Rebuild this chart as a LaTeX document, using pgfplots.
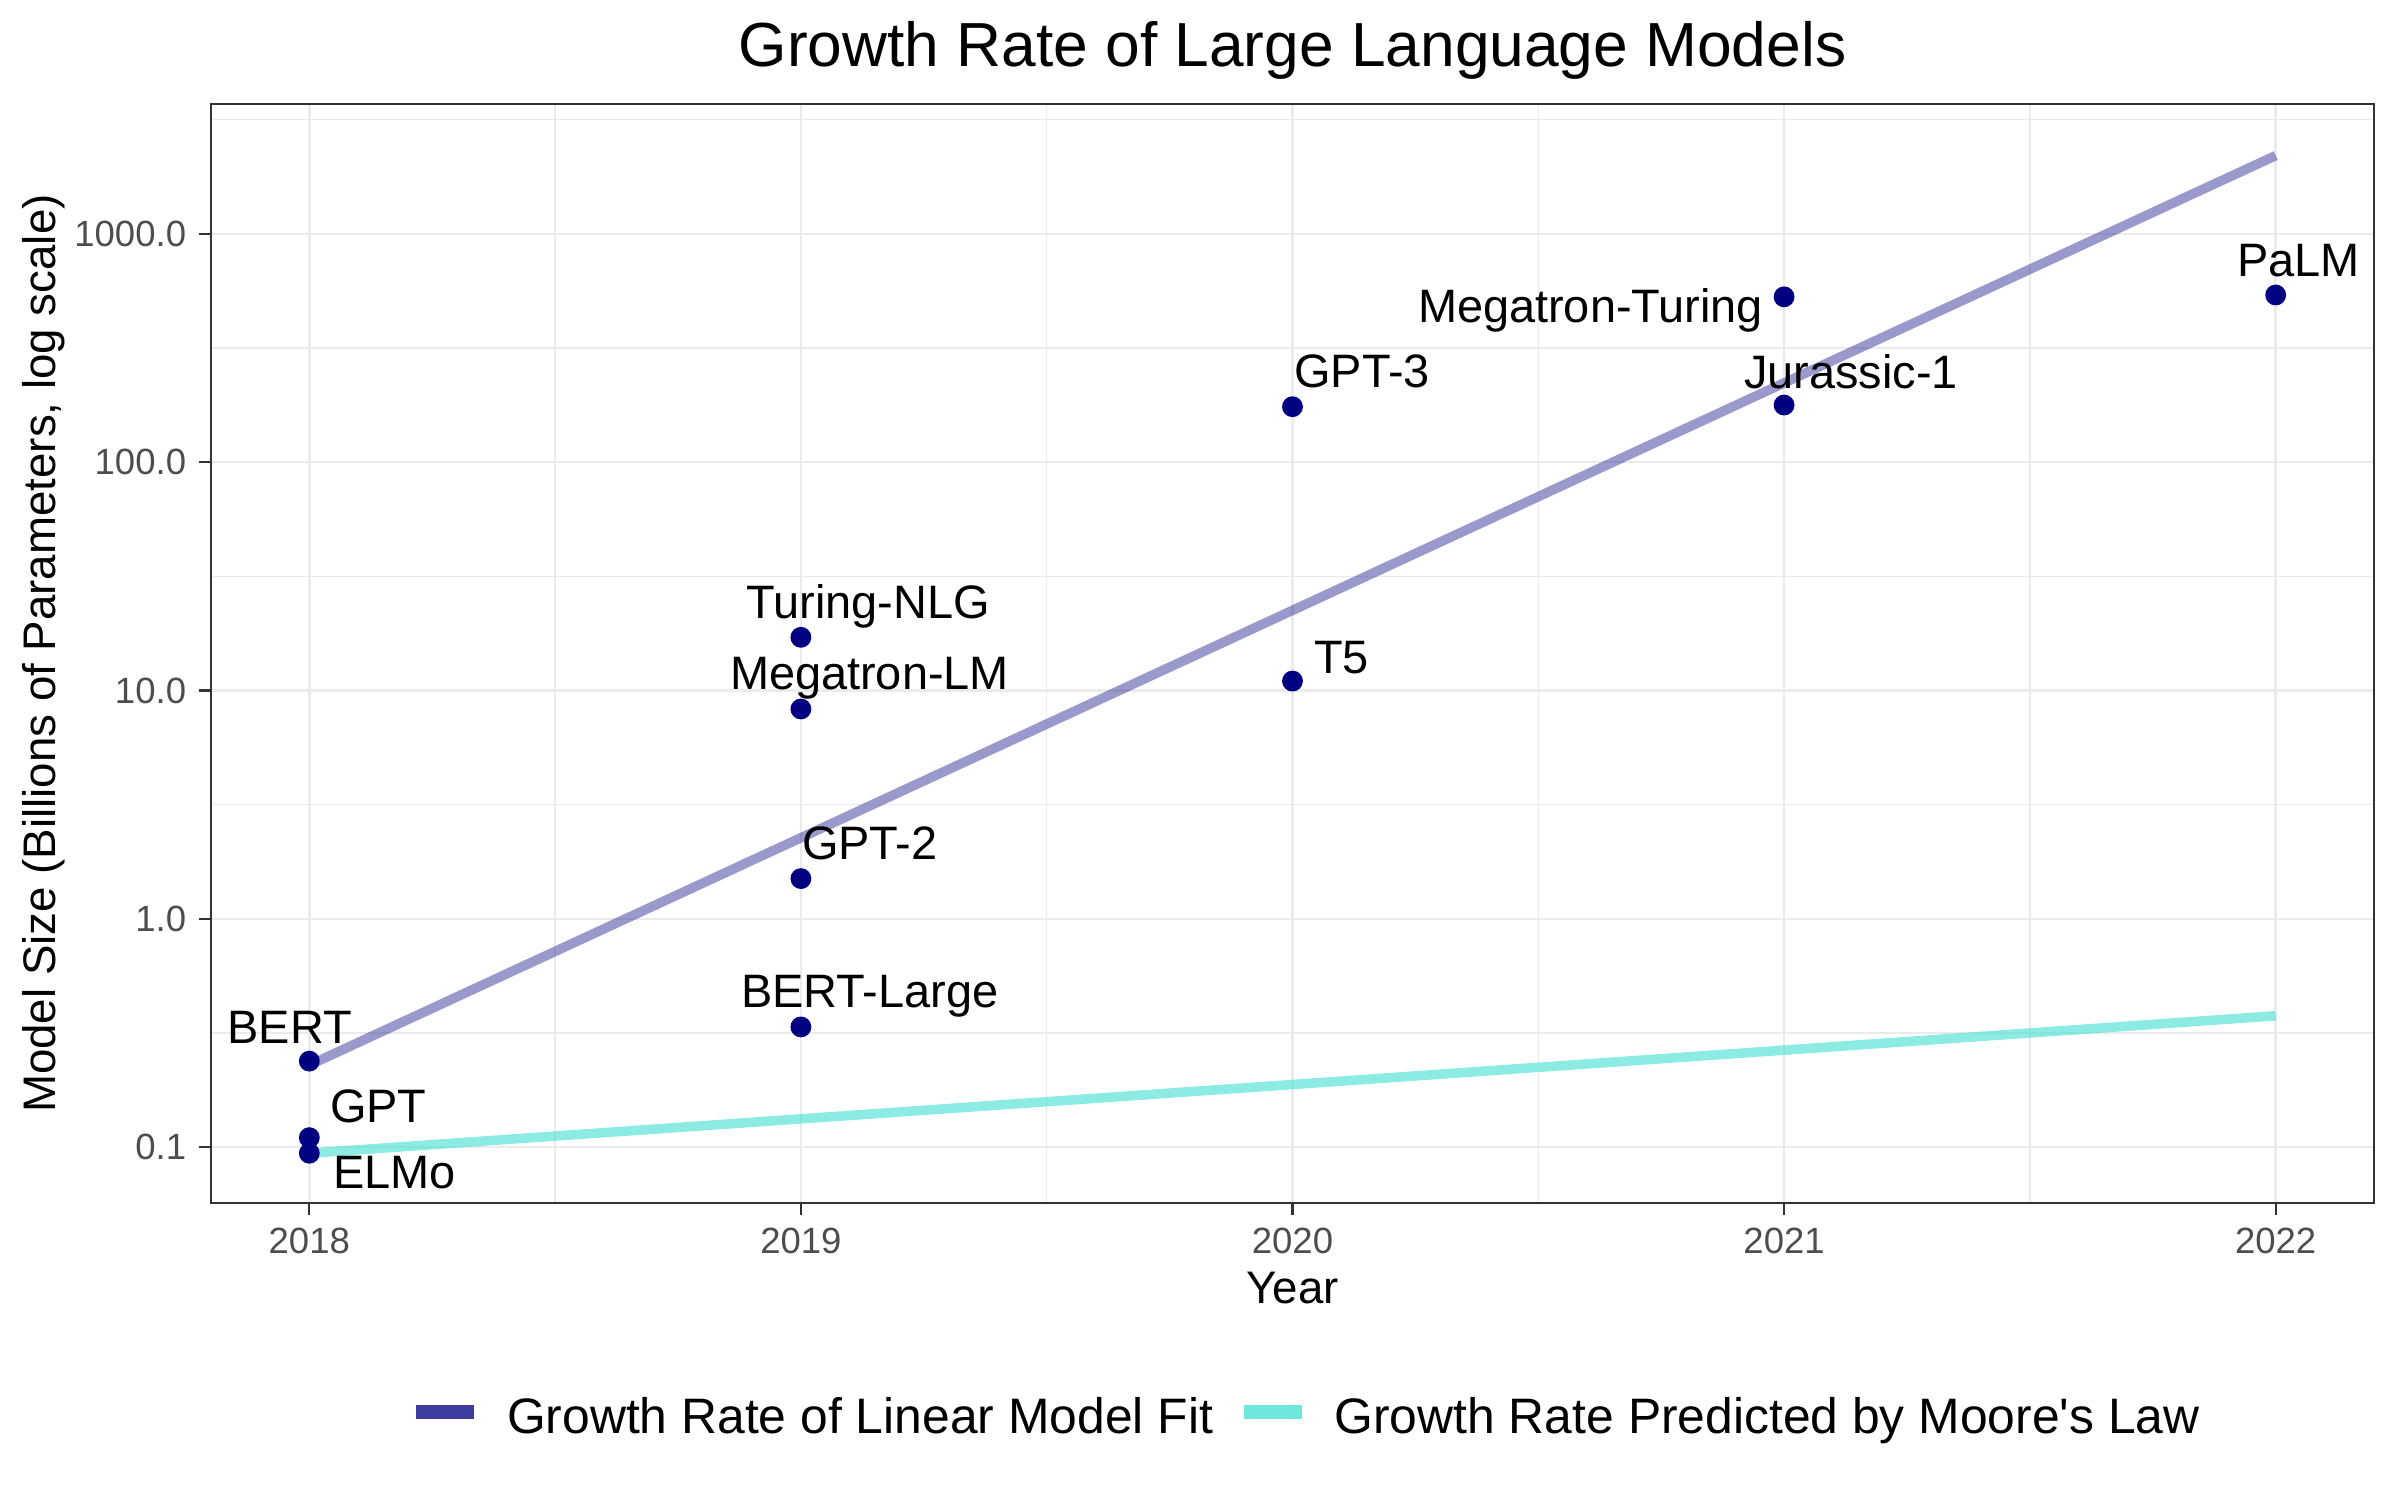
\documentclass[border=0pt]{standalone}
\usepackage{fontspec}
\setmainfont{Liberation Sans}
\usepackage{pgfplots}
\pgfplotsset{compat=1.18}
\definecolor{navyc}{HTML}{000080}
\definecolor{fitc}{HTML}{333399}
\definecolor{moorec}{HTML}{40E0D0}
\definecolor{legfit}{HTML}{3D3D9D}
\definecolor{legmoore}{HTML}{6EE8DC}
\definecolor{gridc}{HTML}{EBEBEB}
\definecolor{tickc}{HTML}{333333}
\definecolor{ticklab}{HTML}{4D4D4D}
\pgfplotstableread{
x y
2018 0.238
2018 0.110
2018 0.094
2019 0.336
2019 1.5
2019 8.3
2019 17.1
2020 11
2020 175
2021 178
2021 530
2022 540
}\pointdata
\begin{document}%
\begin{tikzpicture}[lab/.style={font=\fontsize{11.3}{13}\selectfont, inner sep=0pt, anchor=base},
  xtl/.style={font=\fontsize{8.8}{10}\selectfont, text=ticklab, inner sep=0pt, anchor=north, yshift=-5.76bp},
  ytl/.style={font=\fontsize{8.8}{10}\selectfont, text=ticklab, inner sep=0pt, anchor=east, xshift=-5.78bp}]%
\begin{axis}[name=ax, scale only axis, width=519.12bp, height=263.76bp,
  ymode=log, xmin=2017.8, xmax=2022.2, ymin=0.0569, ymax=3707,
  xtick={2018,2019,2020,2021,2022}, xticklabels={},
  ytick={0.1,1,10,100,1000}, yticklabels={},
  minor xtick={2018.5,2019.5,2020.5,2021.5},
  minor ytick={0.316228,3.16228,31.6228,316.228,3162.28},
  grid=both,
  major grid style={gridc, line width=0.6pt},
  minor grid style={gridc, line width=0.3pt},
  axis line style={tickc, line width=0.55pt},
  tick align=outside, major tick length=2.9bp, minor tick length=0pt,
  tick style={tickc, line width=0.55pt},
  xtick pos=left, ytick pos=left,
  title={Growth Rate of Large Language Models},
  every axis title/.style={at={(axis description cs:0.5,1)}, anchor=base, yshift=8.88bp, inner sep=0pt, font=\fontsize{15}{18}\selectfont},
  xlabel={Year},
  xlabel style={at={(axis description cs:0.5,0)}, anchor=base, yshift=-24bp, inner sep=0pt, font=\fontsize{11}{13}\selectfont},
  ylabel={Model Size (Billions of Parameters, log scale)},
  ylabel style={at={(axis description cs:-0.07212,0.5)}, anchor=base, inner sep=0pt, font=\fontsize{11}{13}\selectfont},
  clip=false,
  legend columns=2,
  legend cell align=left,
  legend image code/.code={\draw[#1] (0pt,1.5pt) -- (13.9bp,1.5pt);},
  legend style={draw=none, fill=none, inner sep=0pt, outer sep=0pt,
    at={(axis description cs:0.0917,-0.196)}, anchor=west,
    font=\fontsize{12}{14}\selectfont,
    nodes={inner sep=0pt},
    /tikz/every odd column/.append style={column sep=6.2bp},
    /tikz/every even column/.append style={column sep=5.7bp}},
]
\addplot[fitc, opacity=0.5, line width=2.3pt, forget plot] coordinates {(2018,0.2286) (2022,2203)};
\addplot[moorec, opacity=0.6, line width=2.3pt, forget plot] coordinates {(2018,0.094) (2022,0.376)};
\addplot[only marks, mark=*, mark size=2.3bp, navyc, forget plot] table[x=x, y=y] {\pointdata};
\addlegendimage{legfit, line width=3.36bp}
\addlegendentry{Growth Rate of Linear Model Fit}
\addlegendimage{legmoore, line width=3.36bp}
\addlegendentry{Growth Rate Predicted by Moore\textquotesingle s Law}
% tick labels
\node[xtl] at (axis cs:2018,0.0569) {2018};
\node[xtl] at (axis cs:2019,0.0569) {2019};
\node[xtl] at (axis cs:2020,0.0569) {2020};
\node[xtl] at (axis cs:2021,0.0569) {2021};
\node[xtl] at (axis cs:2022,0.0569) {2022};
\node[ytl] at (axis cs:2017.8,0.1) {0.1};
\node[ytl] at (axis cs:2017.8,1) {1.0};
\node[ytl] at (axis cs:2017.8,10) {10.0};
\node[ytl] at (axis cs:2017.8,100) {100.0};
\node[ytl] at (axis cs:2017.8,1000) {1000.0};
% point labels
\node[lab, xshift=-4.68bp, yshift=4.32bp] at (axis cs:2018,0.238) {BERT};
\node[lab, xshift=16.56bp, yshift=3.6bp] at (axis cs:2018,0.110) {GPT};
\node[lab, xshift=20.4bp, yshift=-8.4bp] at (axis cs:2018,0.094) {ELMo};
\node[lab, xshift=16.56bp, yshift=4.56bp] at (axis cs:2019,0.336) {BERT-Large};
\node[lab, xshift=16.56bp, yshift=4.56bp] at (axis cs:2019,1.5) {GPT-2};
\node[lab, xshift=16.46bp, yshift=4.56bp] at (axis cs:2019,8.3) {Megatron-LM};
\node[lab, xshift=16.2bp, yshift=4.56bp] at (axis cs:2019,17.1) {Turing-NLG};
\node[lab, xshift=11.76bp, yshift=1.92bp] at (axis cs:2020,11) {T5};
\node[lab, xshift=16.68bp, yshift=4.56bp] at (axis cs:2020,175) {GPT-3};
\node[lab, xshift=16.08bp, yshift=4.08bp] at (axis cs:2021,178) {Jurassic-1};
\node[lab, xshift=-46.46bp, yshift=-6.24bp] at (axis cs:2021,530) {Megatron-Turing};
\node[lab, xshift=5.52bp, yshift=4.32bp] at (axis cs:2022,540) {PaLM};
\end{axis}
\pgfresetboundingbox
\path[use as bounding box] (ax.south west) ++(-50.64bp,-71.28bp) rectangle ++(576bp,360bp);
\end{tikzpicture}%
\end{document}
